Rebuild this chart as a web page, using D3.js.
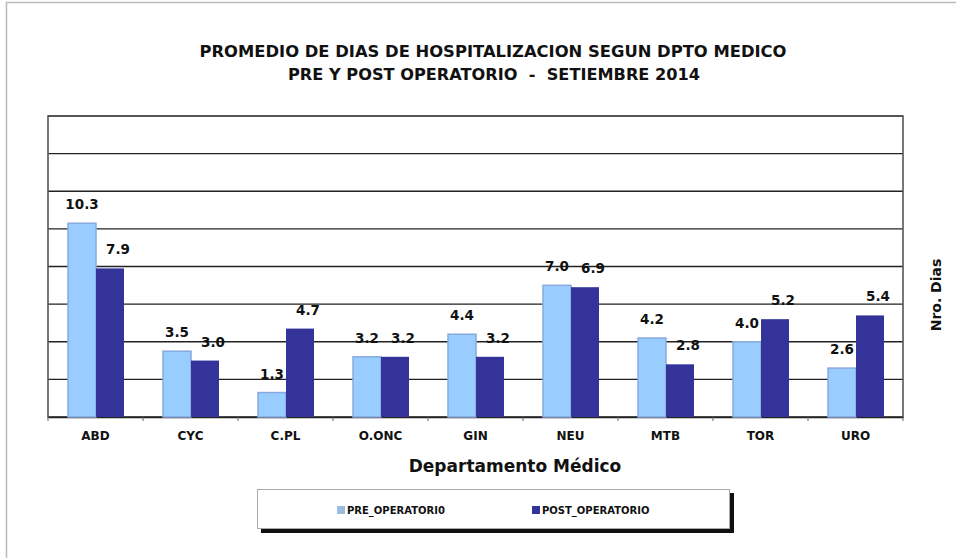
<!DOCTYPE html>
<html>
<head>
<meta charset="utf-8">
<script src="https://cdn.jsdelivr.net/npm/d3@7"></script>
<style>
  body { margin: 0; background: #fff; }
  text { font-family: "DejaVu Sans", Verdana, sans-serif; font-weight: bold; fill: #111; }
  .titulo { white-space: pre; }
</style>
</head>
<body>
<svg id="chart"></svg>
<script>
// chart data
var departamentos = ["ABD", "CYC", "C.PL", "O.ONC", "GIN", "NEU", "MTB", "TOR", "URO"];
var preOperatorio = [10.3, 3.5, 1.3, 3.2, 4.4, 7.0, 4.2, 4.0, 2.6];
var postOperatorio = [7.9, 3.0, 4.7, 3.2, 3.2, 6.9, 2.8, 5.2, 5.4];
var serieNombres = ["PRE_OPERATORI0", "POST_OPERATORIO"];
var yTicks = [0, 2, 4, 6, 8, 10, 12, 14, 16];

var width = 956;
var height = 558;
var plot = { left: 48, right: 903, top: 116, bottom: 417 };
var colores = ["#99ccff", "#333399"];

var svg = d3.select("#chart")
  .attr("width", width)
  .attr("height", height);

// outer frame
svg.append("rect")
  .attr("x", 6.5).attr("y", 2.5)
  .attr("width", width + 10).attr("height", height + 10)
  .attr("fill", "none")
  .attr("stroke", "#bbb")
  .attr("stroke-width", 1.5);

// title
svg.append("text")
  .attr("class", "titulo")
  .attr("x", 493).attr("y", 57)
  .attr("text-anchor", "middle")
  .attr("font-size", 15.5)
  .attr("textLength", 587)
  .attr("lengthAdjust", "spacingAndGlyphs")
  .text("PROMEDIO DE DIAS DE HOSPITALIZACION SEGUN DPTO MEDICO");
svg.append("text")
  .attr("class", "titulo")
  .attr("x", 494).attr("y", 80)
  .attr("text-anchor", "middle")
  .attr("font-size", 15.5)
  .attr("textLength", 412)
  .attr("lengthAdjust", "spacingAndGlyphs")
  .text("PRE Y POST OPERATORIO  -  SETIEMBRE 2014");

var xScale = d3.scaleBand()
  .domain(departamentos)
  .range([plot.left, plot.right]);

var xInner = d3.scaleBand()
  .domain(serieNombres)
  .range([20, 76]);

var yScale = d3.scaleLinear()
  .domain([0, 16])
  .range([plot.bottom, plot.top]);

// grid lines
svg.append("g")
  .selectAll("line")
  .data(yTicks)
  .enter()
  .append("line")
  .attr("x1", plot.left)
  .attr("x2", plot.right)
  .attr("y1", function(d) { return yScale(d); })
  .attr("y2", function(d) { return yScale(d); })
  .attr("stroke", "#222")
  .attr("stroke-width", 1.3);

// plot frame
svg.append("rect")
  .attr("x", plot.left).attr("y", plot.top)
  .attr("width", plot.right - plot.left)
  .attr("height", plot.bottom - plot.top)
  .attr("fill", "none")
  .attr("stroke", "#555")
  .attr("stroke-width", 1.6);

// x axis
var xAxis = svg.append("g")
  .attr("transform", "translate(0," + plot.bottom + ")")
  .call(d3.axisBottom(xScale).tickSize(0).tickPadding(14));
xAxis.select(".domain").attr("stroke", "#222").attr("stroke-width", 1.5);
xAxis.selectAll("text")
  .attr("font-size", 12)
  .attr("font-family", "DejaVu Sans, sans-serif")
  .attr("font-weight", "bold")
  .attr("fill", "#111");

svg.append("g")
  .selectAll("line")
  .data(departamentos.concat(["_end"]))
  .enter()
  .append("line")
  .attr("x1", function(d, i) { return i < departamentos.length ? xScale(d) : plot.right; })
  .attr("x2", function(d, i) { return i < departamentos.length ? xScale(d) : plot.right; })
  .attr("y1", plot.bottom)
  .attr("y2", plot.bottom + 4)
  .attr("stroke", "#666");

// bars
var series = [preOperatorio, postOperatorio];
series.forEach(function(valores, s) {
  var g = svg.append("g");
  g.selectAll("rect")
    .data(valores)
    .enter()
    .append("rect")
    .attr("x", function(d, i) { return xScale(departamentos[i]) + xInner(serieNombres[s]); })
    .attr("y", function(d) { return yScale(d); })
    .attr("width", xInner.bandwidth())
    .attr("height", function(d) { return plot.bottom - yScale(d); })
    .attr("fill", colores[s])
    .attr("stroke", s === 0 ? "#88aadd" : "none")
    .attr("stroke-width", 1.5);

  g.selectAll("text")
    .data(valores)
    .enter()
    .append("text")
    .attr("x", function(d, i) {
      return xScale(departamentos[i]) + xInner(serieNombres[s]) + xInner.bandwidth() / 2 + (s === 1 ? 8 : 0);
    })
    .attr("y", function(d) { return yScale(d) - 14; })
    .attr("text-anchor", "middle")
    .attr("font-size", 13.5)
    .text(function(d) { return d.toFixed(1); });
});

// axis titles
svg.append("text")
  .attr("x", 515).attr("y", 472)
  .attr("text-anchor", "middle")
  .attr("font-size", 17)
  .text("Departamento Médico");

svg.append("text")
  .attr("transform", "translate(941,295) rotate(-90)")
  .attr("text-anchor", "middle")
  .attr("font-size", 14)
  .text("Nro. Dias");

// legend
var legend = svg.append("g");
legend.append("rect")
  .attr("x", 261).attr("y", 493)
  .attr("width", 473).attr("height", 40)
  .attr("fill", "#111");
legend.append("rect")
  .attr("x", 257.5).attr("y", 489.5)
  .attr("width", 472).attr("height", 39)
  .attr("fill", "#fff")
  .attr("stroke", "#aaa");

var legendX = [337, 532];
serieNombres.forEach(function(nombre, s) {
  legend.append("rect")
    .attr("x", legendX[s]).attr("y", 506)
    .attr("width", 8).attr("height", 8)
    .attr("fill", s === 0 ? "#9bbbe0" : colores[1]);
  legend.append("text")
    .attr("x", legendX[s] + 10).attr("y", 514)
    .attr("font-size", 10)
    .text(nombre);
});
</script>
</body>
</html>
